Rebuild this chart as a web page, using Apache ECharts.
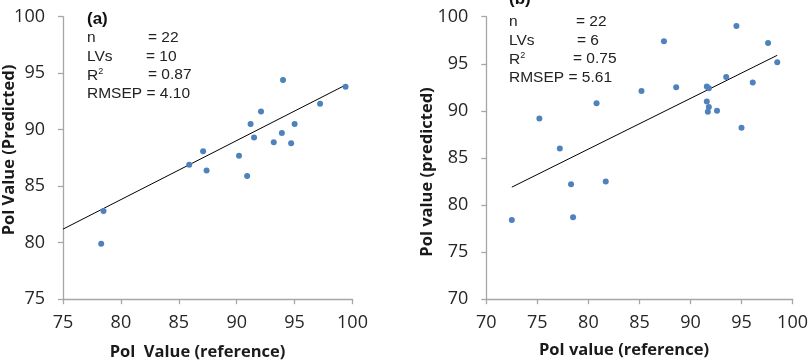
<!DOCTYPE html>
<html>
<head>
<meta charset="utf-8">
<script src="https://cdn.jsdelivr.net/npm/echarts@6/dist/echarts.min.js"></script>
<style>
html,body{margin:0;padding:0;background:#fff;}
#c{width:811px;height:362px;}
</style>
</head>
<body>
<div id="c"></div>
<script>
// Panel (a)
const refA = [78.3, 78.5, 85.9, 87.1, 87.4, 90.2, 90.9, 91.2, 91.5, 92.1, 93.2, 93.9, 94.0, 94.7, 95.0, 97.2, 99.4];
const predA = [79.9, 82.8, 86.9, 88.1, 86.4, 87.7, 85.9, 90.5, 89.3, 91.6, 88.9, 89.7, 94.4, 88.8, 90.5, 92.3, 93.8];
const fitAx = [75, 99.3];
const fitAy = [81.2, 93.9];
// Panel (b)
const refB = [72.5, 75.2, 77.2, 78.3, 78.5, 80.8, 81.7, 85.2, 87.4, 88.6, 91.6, 91.8, 91.6, 91.8, 91.7, 92.6, 93.5, 94.5, 95.0, 96.1, 97.6, 98.5];
const predB = [78.4, 89.2, 86.0, 82.2, 78.7, 90.8, 82.5, 92.1, 97.4, 92.5, 92.6, 92.4, 91.0, 90.4, 89.9, 90.0, 93.6, 99.0, 88.2, 93.0, 97.2, 95.15];
const fitBx = [72.5, 98.5];
const fitBy = [81.9, 95.9];
// Axis ticks
const ticksA = {min: 75, max: 100, interval: 5};
const ticksB = {min: 70, max: 100, interval: 5};
const titlesA = {x: 'Pol  Value (reference)', y: 'Pol Value (Predicted)', tag: '(a)'};
const titlesB = {x: 'Pol value (reference)', y: 'Pol value (predicted)', tag: '(b)'};
const statsA = [["n", "= 22"], ["LVs", "= 10"], ["R", "= 0.87"], ["RMSEP", "= 4.10"]];
const statsB = [["n", "= 22"], ["LVs", "= 6"], ["R", "= 0.75"], ["RMSEP", "= 5.61"]];

const zip = (a, b) => a.map((v, i) => [v, b[i]]);
const FONT = "'Open Sans', sans-serif";
const SFONT = "'Liberation Sans', Arial, sans-serif";

const axisCommon = {
  axisLine: {show: true, lineStyle: {color: '#a6a6a6', width: 1.3}},
  axisTick: {show: true, length: 5, lineStyle: {color: '#a6a6a6', width: 1.3}},
  splitLine: {show: false},
  axisLabel: {color: '#262626', fontSize: 18, fontFamily: FONT}
};

function statTexts(stats, x0, xEq, y0, dy) {
  const out = [];
  stats.forEach((s, i) => {
    const y = y0 + i * dy;
    out.push({type: 'text', left: x0, top: y, style: {
      text: s[0] === 'R' ? '{a|R}{s|2}' : s[0],
      rich: {a: {fontSize: 15.5, fontFamily: SFONT, fill: '#222'}, s: {fontSize: 9, fontFamily: SFONT, fill: '#222', padding: [0,0,9,0]}},
      font: '15.5px ' + SFONT, fill: '#222'}});
    out.push({type: 'text', left: s[0] === 'RMSEP' ? x0 + 59.5 : xEq[i], top: y, style: {text: s[1], font: '15.5px ' + SFONT, fill: '#222'}});
  });
  return out;
}
function title(text, x, y, vertical) {
  return {type: 'text', x: x, y: y, rotation: vertical ? Math.PI / 2 : 0, z: 10,
    style: {text: text, font: 'bold 16.5px ' + FONT, fill: '#1a1a1a', textAlign: 'center', textVerticalAlign: 'middle'}};
}

const chart = echarts.init(document.getElementById('c'), null, {renderer: 'canvas'});
chart.setOption({
  animation: false,
  backgroundColor: '#fff',
  grid: [
    {left: 63, top: 16.7, width: 289.5, height: 282.5},
    {left: 486.3, top: 16.7, width: 316, height: 282.5}
  ],
  xAxis: [
    Object.assign({}, axisCommon, {gridIndex: 0, type: 'value', min: ticksA.min, max: ticksA.max, interval: ticksA.interval,
      axisLabel: Object.assign({}, axisCommon.axisLabel, {margin: 15})}),
    Object.assign({}, axisCommon, {gridIndex: 1, type: 'value', min: ticksB.min, max: ticksB.max, interval: ticksB.interval,
      axisLabel: Object.assign({}, axisCommon.axisLabel, {margin: 15})})
  ],
  yAxis: [
    Object.assign({}, axisCommon, {gridIndex: 0, type: 'value', min: ticksA.min, max: ticksA.max, interval: ticksA.interval,
      axisLabel: Object.assign({}, axisCommon.axisLabel, {margin: 18})}),
    Object.assign({}, axisCommon, {gridIndex: 1, type: 'value', min: ticksB.min, max: ticksB.max, interval: ticksB.interval,
      axisLabel: Object.assign({}, axisCommon.axisLabel, {margin: 18})})
  ],
  series: [
    {type: 'line', xAxisIndex: 0, yAxisIndex: 0, data: zip(fitAx, fitAy), showSymbol: false, lineStyle: {color: '#000', width: 1}, z: 2},
    {type: 'scatter', xAxisIndex: 0, yAxisIndex: 0, data: zip(refA, predA), symbolSize: 6, itemStyle: {color: '#4f81bd', opacity: 1}, z: 3},
    {type: 'line', xAxisIndex: 1, yAxisIndex: 1, data: zip(fitBx, fitBy), showSymbol: false, lineStyle: {color: '#000', width: 1}, z: 2},
    {type: 'scatter', xAxisIndex: 1, yAxisIndex: 1, data: zip(refB, predB), symbolSize: 6, itemStyle: {color: '#4f81bd', opacity: 1}, z: 3}
  ],
  graphic: [
    {type: 'text', left: 87, top: 11, style: {text: titlesA.tag, font: 'bold 17px ' + SFONT, fill: '#111'}},
    {type: 'text', left: 509, top: -9, style: {text: titlesB.tag, font: 'bold 17px ' + SFONT, fill: '#111'}},
    title(titlesA.x, 197.5, 352, false),
    title(titlesB.x, 624, 350, false),
    title(titlesA.y, 9, 150, true),
    title(titlesB.y, 427, 172, true)
  ].concat(statTexts(statsA, 87, [148, 146, 148, 0], 30, 18.5))
   .concat(statTexts(statsB, 509, [576, 577, 573, 0], 14, 18.5))
});
</script>
</body>
</html>
